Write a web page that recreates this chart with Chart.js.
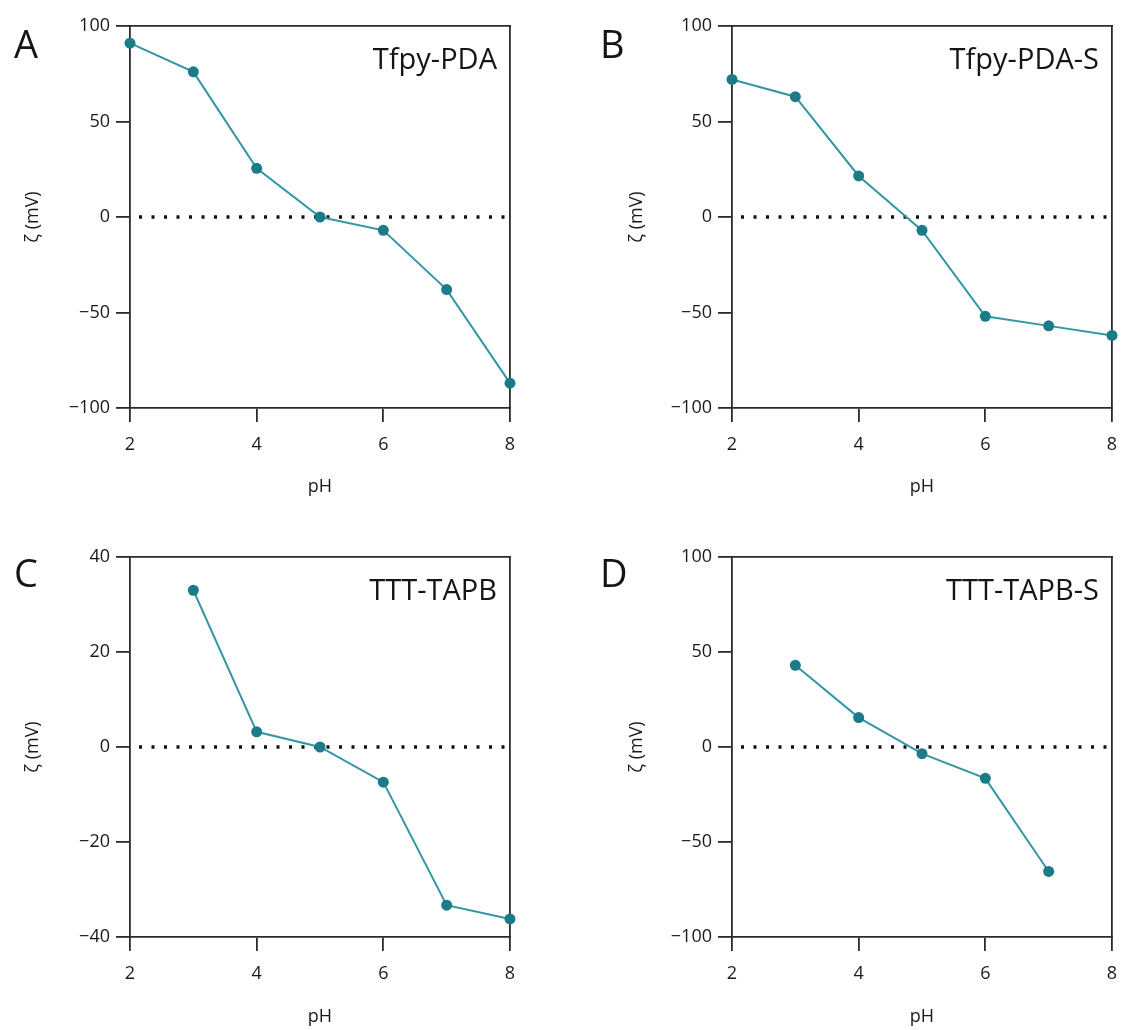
<!DOCTYPE html>
<html>
<head>
<meta charset="utf-8">
<script src="https://cdn.jsdelivr.net/npm/chart.js@4/dist/chart.umd.min.js"></script>
<style>
  html, body { margin: 0; padding: 0; background: #fff; }
  #wrap { position: relative; width: 1122px; height: 1030px; overflow: hidden; }
  canvas { position: absolute; }
</style>
</head>
<body>
<div id="wrap">
  <canvas id="cA" style="left:0px;top:0px;width:561px;height:520px" width="561" height="520"></canvas>
  <canvas id="cB" style="left:561px;top:0px;width:561px;height:520px" width="561" height="520"></canvas>
  <canvas id="cC" style="left:0px;top:520px;width:561px;height:510px" width="561" height="510"></canvas>
  <canvas id="cD" style="left:561px;top:520px;width:561px;height:510px" width="561" height="510"></canvas>
</div>
<script>
// ---- data ----
const phA = [2, 3, 4, 5, 6, 7, 8];
const zetaA = [91, 76, 25.5, 0, -7, -38, -87];          // Tfpy-PDA
const phB = [2, 3, 4, 5, 6, 7, 8];
const zetaB = [72, 63, 21.5, -7, -52, -57, -62];        // Tfpy-PDA-S
const phC = [3, 4, 5, 6, 7, 8];
const zetaC = [33, 3.2, 0, -7.4, -33.3, -36.2];         // TTT-TAPB
const phD = [3, 4, 5, 6, 7];
const zetaD = [43, 15.5, -3.5, -16.5, -65.5];           // TTT-TAPB-S
const xTicks = [2, 4, 6, 8];
const yTicksWide = [-100, -50, 0, 50, 100];
const yTicksNarrow = [-40, -20, 0, 20, 40];
const zeroLineX = [2, 8];
const zeroLineY = [0, 0];

const FONT = "'Open Sans', 'DejaVu Sans', sans-serif";
const AX = '#2b2b2b';
const LINE = '#3396a4';
const PT = '#1b7b88';

const panelText = {
  id: 'panelText',
  afterDraw(chart, args, opts) {
    const ctx = chart.ctx, a = chart.chartArea;
    ctx.save();
    ctx.fillStyle = '#151515';
    ctx.textBaseline = 'alphabetic';
    ctx.font = '38px ' + FONT;
    ctx.textAlign = 'left';
    ctx.fillText(opts.letter, opts.lx, opts.ly);
    ctx.font = '29px ' + FONT;
    ctx.textAlign = 'right';
    ctx.fillText(opts.label, a.right - 13, a.top + 43);
    ctx.restore();
  }
};

function makePanel(id, cfg) {
  const canvas = document.getElementById(id);
  const W = canvas.width, H = canvas.height;
  const pts = cfg.ph.map((x, i) => ({ x: x, y: cfg.zeta[i] }));
  const zero = zeroLineX.map((x, i) => ({ x: x, y: zeroLineY[i] }));
  new Chart(canvas, {
    type: 'line',
    data: {
      datasets: [
        {
          label: cfg.label, data: pts, borderColor: LINE, borderWidth: 2,
          backgroundColor: PT, pointBackgroundColor: PT, pointBorderColor: PT,
          pointRadius: 5.5, pointBorderWidth: 0, tension: 0, clip: false, order: 1
        },
        {
          label: 'zero', data: zero, borderColor: '#111', borderWidth: 3.5,
          borderDash: [3, 9.5], borderDashOffset: -9, borderCapStyle: 'butt',
          pointRadius: 0, tension: 0, clip: false, order: 2
        }
      ]
    },
    options: {
      responsive: false, animation: false, devicePixelRatio: 1,
      layout: { padding: { left: 0, top: cfg.top, right: W - cfg.right, bottom: 0 } },
      plugins: {
        legend: { display: false }, tooltip: { enabled: false },
        panelText: { letter: cfg.letter, lx: cfg.lx, ly: cfg.ly, label: cfg.label }
      },
      scales: {
        x: {
          type: 'linear', position: 'bottom', min: 2, max: 8,
          afterBuildTicks: s => { s.ticks = xTicks.map(v => ({ value: v })); },
          afterFit: s => { s.height = H - cfg.bottom; s.paddingLeft = 0; s.paddingRight = 0; },
          grid: { display: true, drawOnChartArea: false, drawTicks: true, tickLength: 14, color: AX, lineWidth: 1.8 },
          border: { display: true, color: AX, width: 1.8 },
          ticks: { color: '#1a1a1a', font: { family: FONT, size: 18 }, padding: 12, maxRotation: 0 },
          title: { display: true, text: 'pH', color: '#1a1a1a', font: { family: FONT, size: 18 }, padding: { top: 0, bottom: cfg.xtPad } }
        },
        y: {
          type: 'linear', position: 'left', min: cfg.yTicks[0], max: cfg.yTicks[cfg.yTicks.length - 1],
          afterBuildTicks: s => { s.ticks = cfg.yTicks.map(v => ({ value: v })); },
          afterFit: s => { s.width = cfg.left; s.paddingTop = 0; s.paddingBottom = 0; },
          grid: { display: true, drawOnChartArea: false, drawTicks: true, tickLength: 14, color: AX, lineWidth: 1.8 },
          border: { display: true, color: AX, width: 1.8 },
          ticks: { color: '#1a1a1a', font: { family: FONT, size: 18 }, padding: 6,
                   callback: v => (v < 0 ? '\u2212' + Math.abs(v) : String(v)) },
          title: { display: true, text: '\u03B6 (mV)', color: '#1a1a1a', font: { family: FONT, size: 18 }, padding: { top: cfg.ytPad, bottom: 0 } }
        },
        x2: {
          type: 'linear', position: 'top', min: 2, max: 8,
          afterFit: s => { s.height = 0; s.paddingLeft = 0; s.paddingRight = 0; },
          grid: { display: false, drawTicks: false }, ticks: { display: false },
          border: { display: true, color: AX, width: 1.8 }
        },
        y2: {
          type: 'linear', position: 'right', min: 0, max: 1,
          afterFit: s => { s.width = 0; s.paddingTop = 0; s.paddingBottom = 0; },
          grid: { display: false, drawTicks: false }, ticks: { display: false },
          border: { display: true, color: AX, width: 1.8 }
        }
      }
    },
    plugins: [panelText]
  });
}

makePanel('cA', { ph: phA, zeta: zetaA, label: 'Tfpy-PDA', letter: 'A', lx: 14, ly: 58,
  left: 130, right: 510, top: 26, bottom: 408, yTicks: yTicksWide, ytPad: 22, xtPad: 22 });
makePanel('cB', { ph: phB, zeta: zetaB, label: 'Tfpy-PDA-S', letter: 'B', lx: 39, ly: 58,
  left: 171, right: 551, top: 26, bottom: 408, yTicks: yTicksWide, ytPad: 65, xtPad: 22 });
makePanel('cC', { ph: phC, zeta: zetaC, label: 'TTT-TAPB', letter: 'C', lx: 14, ly: 67,
  left: 130, right: 510, top: 37, bottom: 417, yTicks: yTicksNarrow, ytPad: 22, xtPad: 2 });
makePanel('cD', { ph: phD, zeta: zetaD, label: 'TTT-TAPB-S', letter: 'D', lx: 39, ly: 67,
  left: 171, right: 551, top: 37, bottom: 417, yTicks: yTicksWide, ytPad: 65, xtPad: 2 });
</script>
</body>
</html>
